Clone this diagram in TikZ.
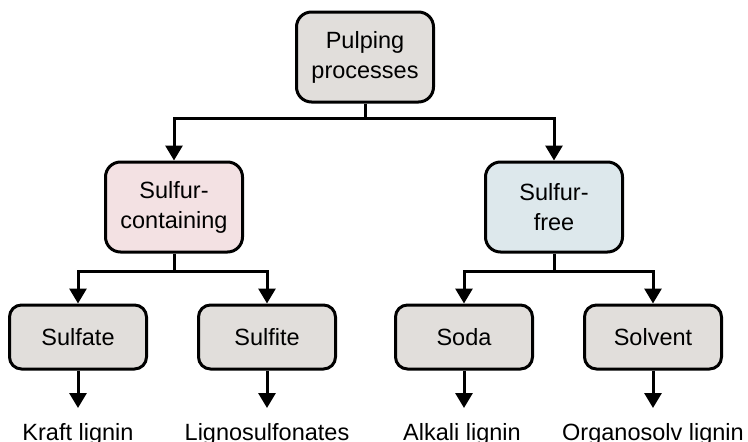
\documentclass[tikz,border=0pt]{standalone}
\usepackage{fontspec}
\setmainfont{Liberation Sans}
\usetikzlibrary{arrows.meta}
\definecolor{boxgray}{HTML}{E1DEDB}
\definecolor{boxpink}{HTML}{F3E1E3}
\definecolor{boxblue}{HTML}{DDE8EC}
\tikzset{
  x=1pt, y=-1pt,
  procbox/.style={draw=black, line width=3pt, rounded corners=15pt, fill=boxgray,
    align=center, font=\fontsize{23.5}{30}\selectfont, inner sep=0pt},
  bigbox/.style={procbox, minimum width=137pt, minimum height=90pt},
  smallbox/.style={procbox, minimum width=137pt, minimum height=64pt, rounded corners=12pt},
  lbl/.style={font=\fontsize{23.5}{30}\selectfont, anchor=base, inner sep=0pt},
  conn/.style={line width=3pt},
  arr/.style={line width=3pt, -{Triangle[width=17pt,length=15pt]}},
}
\begin{document}
\begin{tikzpicture}
\useasboundingbox (0,0) rectangle (748,442);
\clip (0,0) rectangle (748,442);
\node[bigbox] (top) at (365,57) {Pulping\\processes};
\node[bigbox, fill=boxpink] (sc) at (174,207) {Sulfur-\\containing};
\node[bigbox, fill=boxblue] (sf) at (554,207) {Sulfur-\\free};
\node[smallbox] (sulfate) at (78,337) {Sulfate};
\node[smallbox] (sulfite) at (267,337) {Sulfite};
\node[smallbox] (soda) at (464,337) {Soda};
\node[smallbox] (solvent) at (653,337) {Solvent};
\node[lbl] (kraft) at (78,440) {Kraft lignin};
\node[lbl] (ligno) at (267,440) {Lignosulfonates};
\node[lbl] (alkali) at (462,440) {Alkali lignin};
\node[lbl] (organo) at (653,440) {Organosolv lignin};
\coordinate (j1) at (365,118);
\coordinate (j2) at (174,271);
\coordinate (j3) at (554,271);
\draw[conn] (top.south) -- (j1);
\draw[arr] (j1) -| (sc.north);
\draw[arr] (j1) -| (sf.north);
\draw[conn] (sc.south) -- (j2);
\draw[arr] (j2) -| (sulfate.north);
\draw[arr] (j2) -| (sulfite.north);
\draw[conn] (sf.south) -- (j3);
\draw[arr] (j3) -| (soda.north);
\draw[arr] (j3) -| (solvent.north);
\coordinate (e1) at (78,408);
\coordinate (e2) at (267,408);
\coordinate (e3) at (464,408);
\coordinate (e4) at (653,408);
\draw[arr] (sulfate.south) -- (e1);
\draw[arr] (sulfite.south) -- (e2);
\draw[arr] (soda.south) -- (e3);
\draw[arr] (solvent.south) -- (e4);
\end{tikzpicture}
\end{document}
